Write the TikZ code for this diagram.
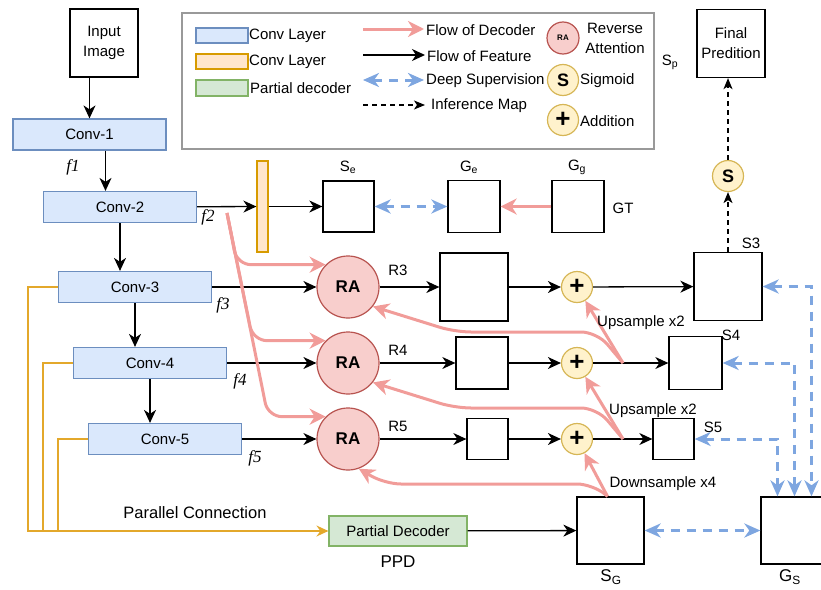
\documentclass[tikz,border=0pt]{standalone}
\usepackage{fontspec}
\setmainfont{Liberation Sans}
\newfontfamily\flabel{Liberation Serif}
\usepackage{tikz}
\usetikzlibrary{arrows.meta}

\definecolor{convfill}{HTML}{DAE8FC}
\definecolor{convline}{HTML}{6C8EBF}
\definecolor{barfill}{HTML}{FFE6CC}
\definecolor{barline}{HTML}{D79B00}
\definecolor{pdfill}{HTML}{D5E8D4}
\definecolor{pdline}{HTML}{82B366}
\definecolor{rafill}{HTML}{F8CECC}
\definecolor{raline}{HTML}{B85450}
\definecolor{opfill}{HTML}{FFF2CC}
\definecolor{opline}{HTML}{D6B656}
\definecolor{decpink}{HTML}{F19C99}
\definecolor{supblue}{HTML}{7EA6E0}
\definecolor{parorange}{HTML}{E3A82B}

\begin{document}
\begin{tikzpicture}[x=1pt, y=-1pt, inner sep=1pt, font=\fontsize{15}{17}\selectfont,
    conv/.style     = {draw=convline, fill=convfill, line width=1.2pt, minimum width=153pt, minimum height=31pt},
    mapbox/.style   = {draw, line width=1.3pt, minimum width=#1, minimum height=#1},
    rablock/.style  = {circle, draw=raline, fill=rafill, line width=1.2pt, minimum size=62pt, font=\fontsize{17}{17}\selectfont\bfseries},
    opcircle/.style = {circle, draw=opline, fill=opfill, line width=1.2pt, minimum size=31pt, inner sep=0pt},
    feat/.style     = {line width=1.3pt, -{Stealth[length=13pt, width=12pt, inset=4pt]}},
    dec/.style      = {decpink, line width=3pt, -{Stealth[length=16pt, width=16pt, inset=5pt]}},
    supv/.style     = {supblue, line width=3pt, dash pattern=on 9pt off 7pt, {Stealth[length=16pt, width=14pt, inset=5pt]}-{Stealth[length=16pt, width=14pt, inset=5pt]}},
    infer/.style    = {line width=1.3pt, dash pattern=on 5pt off 4pt, -{Stealth[length=11pt, width=9pt, inset=3pt]}},
    parline/.style  = {parorange, line width=1.5pt},
    flab/.style     = {font=\fontsize{17}{17}\selectfont\flabel\itshape},
    plus/.style     = {font=\fontsize{26}{26}\selectfont\bfseries},
    sig/.style      = {font=\fontsize{18}{18}\selectfont\bfseries}]
    \useasboundingbox (0,0) rectangle (821,589);

    % legend
    \node[draw=black!40, line width=1.5pt, minimum width=472pt, minimum height=136pt] (legend) at (418,81) {};
    \node[conv, minimum width=52pt, minimum height=15pt] (lgconv) at (222,35.5) {};
    \node[anchor=west] (lgconvtxt) at (248,36) {Conv Layer};
    \node[draw=barline, fill=barfill, line width=1.2pt, minimum width=52pt, minimum height=15pt] (lgbar) at (222,61.5) {};
    \node[anchor=west] (lgbartxt) at (248,62) {Conv Layer};
    \node[draw=pdline, fill=pdfill, line width=1.2pt, minimum width=52pt, minimum height=16pt] (lgpd) at (222,88) {};
    \node[anchor=west] (lgpdtxt) at (249,88) {Partial decoder};
    \coordinate (lgdecs) at (363,29);
    \coordinate (lgdece) at (424,29);
    \draw[dec] (lgdecs) -- (lgdece);
    \node[anchor=west] (lgdectxt) at (425,30) {Flow of Decoder};
    \coordinate (lgfeats) at (363,55);
    \coordinate (lgfeate) at (425,55);
    \draw[feat] (lgfeats) -- (lgfeate);
    \node[anchor=west] (lgfeattxt) at (426,56) {Flow of Feature};
    \coordinate (lgsups) at (363,80);
    \coordinate (lgsupe) at (424,80);
    \draw[supv] (lgsups) -- (lgsupe);
    \node[anchor=west] (lgsuptxt) at (425,81) {Deep Supervision};
    \coordinate (lginfs) at (363,105);
    \coordinate (lginfe) at (425,105);
    \draw[infer] (lginfs) -- (lginfe);
    \node[anchor=west] (lginftxt) at (430,106) {Inference Map};
    \node[rablock, minimum size=32pt, font=\fontsize{8}{8}\selectfont\bfseries] (lgra) at (563,38) {RA};
    \node[align=center, font=\fontsize{15}{20}\selectfont] (lgratxt) at (615,38) {Reverse\\Attention};
    \node[opcircle, sig] (lgsig) at (563,80) {S};
    \node[anchor=west] (lgsigtxt) at (579,81) {Sigmoid};
    \node[opcircle, plus] (lgplus) at (563,120) {+};
    \node[anchor=west] (lgplustxt) at (579,121) {Addition};

    % encoder
    \node[mapbox=68pt, align=center, font=\fontsize{15}{20}\selectfont] (input) at (104,43) {Input\\Image};
    \node[conv] (conv1) at (89.5,134.5) {Conv-1};
    \node[conv] (conv2) at (120,207) {Conv-2};
    \node[conv] (conv3) at (135,287) {Conv-3};
    \node[conv] (conv4) at (150,363) {Conv-4};
    \node[conv] (conv5) at (165,439) {Conv-5};
    \draw[feat] (input.south -| conv1) -- (conv1); % Vertical line
    \draw[feat] ([xshift=16pt]conv1.south) -- ([xshift=16pt]conv1.south |- conv2.north);
    \draw[feat] (conv2) -- (conv2 |- conv3.north);
    \draw[feat] (conv3) -- (conv3 |- conv4.north);
    \draw[feat] (conv4) -- (conv4 |- conv5.north);
    \node[flab] (f1) at (73,167) {f1};
    \node[flab] (f2) at (208,217) {f2};
    \node[flab] (f3) at (223,305) {f3};
    \node[flab] (f4) at (240,381) {f4};
    \node[flab] (f5) at (255,458) {f5};

    % edge branch
    \node[draw=barline, fill=barfill, line width=1.2pt, minimum width=11pt, minimum height=91pt] (convbar) at (262.5,206.5) {};
    \node[mapbox=51pt] (se) at (348.5,206.5) {};
    \node[mapbox=52pt] (ge) at (474,206.5) {};
    \node[mapbox=52pt] (gg) at (578,206.5) {};
    \node (lblse) at (348,167) {S\textsubscript{e}};
    \node (lblge) at (469,167) {G\textsubscript{e}};
    \node (lblgg) at (577,167) {G\textsubscript{g}};
    \node (lblgt) at (623,208) {GT};
    \draw[feat] (conv2) -- (convbar);
    \draw[feat] (convbar) -- (se);
    \draw[supv] (se) -- (ge);
    \draw[dec] (gg) -- (ge);

    % reverse attention rows
    \node[rablock] (ra3) at (348,287) {RA};
    \node[rablock] (ra4) at (348,363) {RA};
    \node[rablock] (ra5) at (348,439) {RA};
    \node[mapbox=68pt] (b3) at (474,287) {};
    \node[mapbox=52pt] (b4) at (482,363) {};
    \node[mapbox=41pt] (b5) at (487.5,439) {};
    \node[opcircle, plus] (p3) at (577,287) {+};
    \node[opcircle, plus] (p4) at (577,363) {+};
    \node[opcircle, plus] (p5) at (577,439) {+};
    \node[mapbox=68pt] (s3) at (728,286.5) {};
    \node[mapbox=53pt] (s4) at (695.5,363) {};
    \node[mapbox=41pt] (s5) at (673.5,439) {};
    \node (lblr3) at (398,270) {R3};
    \node (lblr4) at (398,350) {R4};
    \node (lblr5) at (398,426) {R5};
    \node (lbls3) at (751,243) {S3};
    \node (lbls4) at (731,335) {S4};
    \node (lbls5) at (713,427) {S5};
    \foreach \n in {3,4,5} {
        \draw[feat] (conv\n) -- (ra\n);
        \draw[feat] (ra\n) -- (b\n);
        \draw[feat] (b\n) -- (p\n);
        \draw[feat] (p\n) -- (s\n);
    }

    % output
    \node[opcircle, sig] (sig) at (728,176) {S};
    \node[mapbox=68pt, align=center, font=\fontsize{15}{20}\selectfont] (final) at (731,43.5) {Final\\Predition};
    \node (lblsp) at (670,62) {S\textsubscript{p}};
    \draw[infer] (s3) -- (sig);
    \draw[infer] (sig) -- (sig |- final.south);

    % partial decoder
    \node[draw=pdline, fill=pdfill, line width=1.2pt, minimum width=138pt, minimum height=30pt] (pd) at (398,531) {Partial Decoder};
    \node[font=\fontsize{17}{17}\selectfont] (lblppd) at (398,562) {PPD};
    \node[font=\fontsize{16.5}{17}\selectfont] (lblpar) at (195,513) {Parallel Connection};
    \node[mapbox=67pt] (sg) at (610.5,530.5) {};
    \node[mapbox=67pt] (gs) at (794.5,530.5) {};
    \node[font=\fontsize{17}{17}\selectfont] (lblsg) at (611,577) {S\textsubscript{G}};
    \node[font=\fontsize{17}{17}\selectfont] (lblgs) at (790,577) {G\textsubscript{S}};
    \draw[parline, -{Stealth[length=12pt, width=11pt, inset=4pt]}] (conv3.west) -| ([xshift=-30pt]conv3.west |- pd.west) -- (pd.west);
    \draw[parline] (conv4.west) -| ([xshift=-30pt]conv4.west |- pd.west);
    \draw[parline] (conv5.west) -| ([xshift=-30pt]conv5.west |- pd.west);
    \draw[feat] (pd) -- (sg);
    \draw[supv] (sg) -- (gs);
    \draw[supv] (s3.east) -| ([xshift=17pt]gs.north);
    \draw[supv] (s4.east) -| (gs.north);
    \draw[supv] (s5.east) -| ([xshift=-17pt]gs.north);

    % decoder flow from f2
    \coordinate (f2s) at (227,213);
    \foreach \n/\xb in {3/237, 4/253, 5/268} {
        \draw[dec, rounded corners=14pt] (f2s) -- (\xb,0 |- ra\n.135) -- (ra\n.135);
    }

    % upsampled feedback
    \coordinate (u4) at (623,363);
    \coordinate (u5) at (623,439);
    \coordinate (dsp) at ([xshift=-3pt]sg.north);
    \draw[dec] (u4) -- (p3);
    \draw[dec] (u5) -- (p4);
    \draw[dec] (dsp) -- (p5);
    \draw[dec, rounded corners=16pt] (u4) -- (597,332) -- (455,332) -- (ra3.-38);
    \draw[dec, rounded corners=16pt] (u5) -- (597,408) -- (455,408) -- (ra4.-38);
    \draw[dec, rounded corners=16pt] (dsp) -- (593,484) -- (385,484) -- (ra5.-70);
    \node (lblup3) at (641,323) {Upsample x2};
    \node (lblup4) at (653,411) {Upsample x2};
    \node (lbldown) at (663,484) {Downsample x4};
\end{tikzpicture}
\end{document}
